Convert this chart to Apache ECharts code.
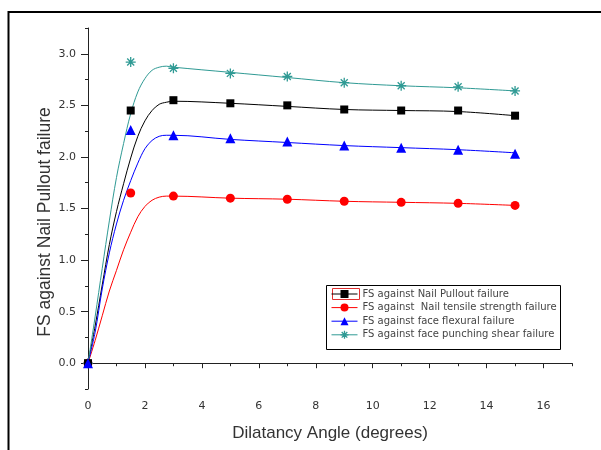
<!DOCTYPE html>
<html>
<head>
<meta charset="utf-8">
<script src="https://cdn.jsdelivr.net/npm/echarts@6/dist/echarts.min.js"></script>
<style>
html,body{margin:0;padding:0;background:#fff;}
#chart{width:601px;height:450px;}
</style>
</head>
<body>
<div id="chart"></div>
<script>
// ---- data ----
const seriesNames = [
  'FS against Nail Pullout failure',
  'FS against  Nail tensile strength failure',
  'FS against face flexural failure',
  'FS against face punching shear failure'
];
const xTitle = 'Dilatancy Angle (degrees)';
const yTitle = 'FS against Nail Pullout failure';
// measured points (markers)
const markerX = [0, 1.5, 3, 5, 7, 9, 11, 13, 15];
const pulloutPts  = [0, 2.45, 2.55, 2.52, 2.50, 2.46, 2.45, 2.45, 2.40];
const tensilePts  = [0, 1.65, 1.62, 1.60, 1.59, 1.57, 1.56, 1.55, 1.53];
const flexuralPts = [0, 2.26, 2.21, 2.18, 2.15, 2.11, 2.09, 2.07, 2.03];
const punchingPts = [0, 2.92, 2.86, 2.81, 2.78, 2.72, 2.69, 2.68, 2.64];
// fitted curves
const curveX = [0, 0.25, 0.5, 0.75, 1.0, 1.25, 1.5, 1.75, 2.0, 2.25, 2.5, 2.75, 3, 5, 7, 9, 11, 13, 15];
const pulloutFit  = [0, 0.36, 0.76, 1.15, 1.47, 1.74, 1.99, 2.20, 2.35, 2.45, 2.51, 2.53, 2.54, 2.52, 2.49, 2.46, 2.45, 2.44, 2.40];
const tensileFit  = [0, 0.22, 0.46, 0.70, 0.90, 1.10, 1.27, 1.42, 1.52, 1.58, 1.61, 1.62, 1.62, 1.60, 1.59, 1.57, 1.56, 1.55, 1.53];
const flexuralFit = [0, 0.30, 0.72, 1.07, 1.35, 1.58, 1.77, 1.94, 2.08, 2.16, 2.20, 2.21, 2.21, 2.17, 2.14, 2.11, 2.09, 2.07, 2.04];
const punchingFit = [0, 0.45, 0.92, 1.38, 1.80, 2.13, 2.42, 2.63, 2.76, 2.84, 2.87, 2.88, 2.87, 2.82, 2.77, 2.72, 2.69, 2.67, 2.64];
// axis ticks
const xMajorTicks = [0, 2, 4, 6, 8, 10, 12, 14, 16];
const xMinorTicks = [1, 3, 5, 7, 9, 11, 13, 15, 17];
const yMajorTicks = [0, 0.5, 1.0, 1.5, 2.0, 2.5, 3.0];
const yMinorTicks = [-0.25, 0.25, 0.75, 1.25, 1.75, 2.25, 2.75, 3.25];

const colors = ['#000000', '#ff0000', '#0000ff', '#2f9a94'];
const symbols = ['rect', 'circle', 'triangle', 'path://M0,5L10,5M5,0L5,10M1.5,1.5L8.5,8.5M8.5,1.5L1.5,8.5'];
const symbolSizes = [8, 9, 10, 10];
const pts = [pulloutPts, tensilePts, flexuralPts, punchingPts];
const fits = [pulloutFit, tensileFit, flexuralFit, punchingFit];

const pair = (xs, ys) => xs.map((x, i) => [x, ys[i]]);

const axisColor = '#222';
const labelColor = '#333';
const titleFont = '"Liberation Sans", Arial, sans-serif';
const tickFont = '"DejaVu Sans", sans-serif';

const series = [];
// curves
fits.forEach((f, i) => {
  series.push({
    name: 'fit' + i,
    type: 'line',
    xAxisIndex: 0, yAxisIndex: 0,
    data: pair(curveX, f),
    smooth: 0.35,
    symbol: 'none',
    silent: true,
    lineStyle: { color: colors[i], width: 1 },
    z: 2
  });
});
// markers
const markerZ = [5, 3, 6, 4];
pts.forEach((p, i) => {
  series.push({
    name: seriesNames[i],
    type: 'line',
    xAxisIndex: 0, yAxisIndex: 0,
    data: pair(markerX, p),
    symbol: symbols[i],
    symbolSize: symbolSizes[i],
    showSymbol: true,
    lineStyle: { color: colors[i], width: 0 },
    itemStyle: {
      color: colors[i],
      borderColor: colors[i],
      borderWidth: i === 3 ? 1.3 : 0
    },
    z: markerZ[i]
  });
});

const chart = echarts.init(document.getElementById('chart'), null, { renderer: 'canvas' });
chart.setOption({
  animation: false,
  backgroundColor: '#fff',
  grid: { left: 88, top: 28, right: 29, bottom: 61, containLabel: false },
  xAxis: [{
    type: 'value', min: 0, max: 17,
    axisLine: { show: true, lineStyle: { color: axisColor, width: 1 } },
    axisTick: { show: true, inside: false, length: 5, customValues: xMajorTicks, lineStyle: { color: axisColor } },
    axisLabel: { show: true, customValues: xMajorTicks, color: labelColor, fontSize: 11, fontFamily: tickFont, margin: 12 },
    splitLine: { show: false },
    name: xTitle,
    nameLocation: 'middle', nameGap: 36,
    nameTextStyle: { color: labelColor, fontSize: 17, fontFamily: titleFont }
  }, {
    type: 'value', min: 0, max: 17, position: 'bottom',
    axisLine: { show: false },
    axisTick: { show: true, length: 3, customValues: xMinorTicks, lineStyle: { color: axisColor } },
    axisLabel: { show: false },
    splitLine: { show: false }
  }],
  yAxis: [{
    type: 'value', min: -0.25, max: 3.25,
    axisLine: { show: true, lineStyle: { color: axisColor, width: 1 } },
    axisTick: { show: true, length: 7, customValues: yMajorTicks, lineStyle: { color: axisColor } },
    axisLabel: { show: true, customValues: yMajorTicks, color: labelColor, fontSize: 11, fontFamily: tickFont, margin: 12,
      formatter: v => v.toFixed(1) },
    splitLine: { show: false }
  }, {
    type: 'value', min: -0.25, max: 3.25, position: 'left',
    axisLine: { show: false },
    axisTick: { show: true, length: 3, customValues: yMinorTicks, lineStyle: { color: axisColor } },
    axisLabel: { show: false },
    splitLine: { show: false }
  }],
  legend: {
    data: seriesNames,
    orient: 'vertical',
    left: 331, top: 289,
    padding: 0,
    itemWidth: 26, itemHeight: 10, itemGap: 3.6,
    textStyle: { color: '#444', fontSize: 10, fontFamily: tickFont, lineHeight: 10 },
    lineStyle: { width: 1 },
    itemStyle: { borderWidth: 'inherit' },
    selectedMode: false
  },
  graphic: [
    { type: 'rect', shape: { x: 8.5, y: 12, width: 640, height: 480 }, style: { fill: 'none', stroke: '#000', lineWidth: 2 }, silent: true },
    { type: 'rect', shape: { x: 326.5, y: 285.5, width: 234, height: 64 }, style: { fill: 'none', stroke: '#000', lineWidth: 1 }, silent: true },
    { type: 'rect', shape: { x: 332.5, y: 288.5, width: 27, height: 11 }, style: { fill: 'none', stroke: '#e03030', lineWidth: 1 }, silent: true },
    { type: 'text', x: 45, y: 222, rotation: Math.PI / 2, silent: true,
      style: { text: yTitle, fill: labelColor, font: '17.5px "Liberation Sans", Arial, sans-serif', align: 'center', verticalAlign: 'middle' } }
  ],
  series: series
});
</script>
</body>
</html>
